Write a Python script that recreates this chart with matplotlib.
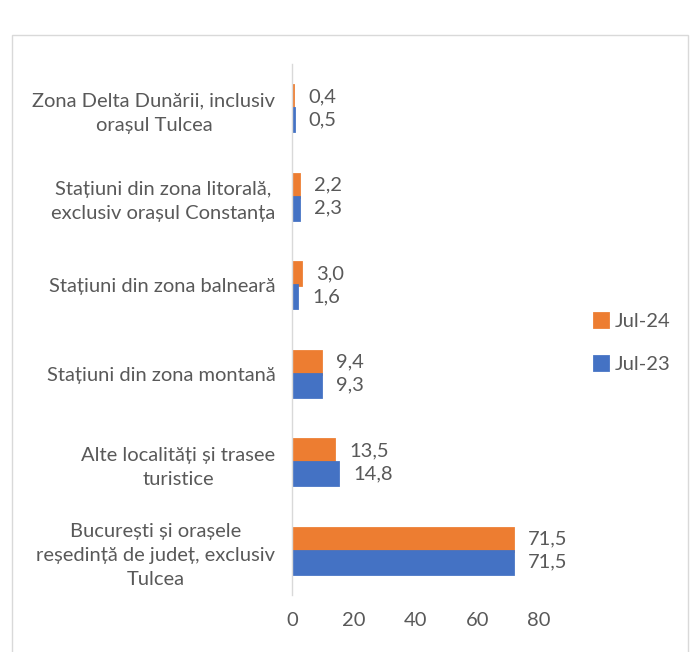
import numpy as np
import matplotlib.pyplot as plt
from matplotlib.patches import Rectangle

categories = [
    "Zona Delta Dunării, inclusiv\norașul Tulcea",
    "Stațiuni din zona litorală,\nexclusiv orașul Constanța",
    "Stațiuni din zona balneară",
    "Stațiuni din zona montană",
    "Alte localități și trasee\nturistice",
    "București și orașele\nreședință de județ, exclusiv\nTulcea",
]
jul23 = [0.5, 2.3, 1.6, 9.3, 14.8, 71.5]
jul24 = [0.4, 2.2, 3.0, 9.4, 13.5, 71.5]

blue = "#4472C4"
orange = "#ED7D31"
grey = "#595959"
fs = 14.5

plt.rcParams['font.family'] = ['Lato', 'DejaVu Sans']

fig = plt.figure(figsize=(6.92, 6.52), dpi=100)
# rama graficului
fig.patches.append(Rectangle((12 / 692, -0.05), 676 / 692, 1 - 35 / 652 + 0.05,
                             transform=fig.transFigure, fill=False,
                             edgecolor="#d9d9d9", linewidth=1))

ax = fig.add_axes([292 / 692, 1 - 595 / 652, (539 - 292) / 692, (595 - 64) / 652])

y = np.arange(len(categories))
h = 0.26
b24 = ax.barh(y - h / 2, jul24, height=h, color=orange, edgecolor=orange,
              linewidth=2, label="Jul-24")
b23 = ax.barh(y + h / 2, jul23, height=h, color=blue, edgecolor=blue,
              linewidth=2, label="Jul-23")

def fmt(v):
    return f"{v:.1f}".replace(".", ",")

for bars, vals in ((b24, jul24), (b23, jul23)):
    for bar, v in zip(bars, vals):
        ax.annotate(fmt(v), (bar.get_width(), bar.get_y() + bar.get_height() / 2),
                    xytext=(11, 0), textcoords="offset points",
                    ha="left", va="center", fontsize=fs, color=grey)

ax.set_ylim(len(categories) - 0.5, -0.5)
ax.set_xlim(0, 80)
ax.set_xticks([0, 20, 40, 60, 80])
ax.set_yticks(y)
ax.set_yticklabels(categories, multialignment="center", linespacing=1.5)
ax.tick_params(axis="y", length=0, pad=12, labelsize=fs, labelcolor=grey)
ax.tick_params(axis="x", length=0, pad=12, labelsize=fs, labelcolor=grey)

for s in ["top", "right", "bottom"]:
    ax.spines[s].set_visible(False)
ax.spines["left"].set_color("#d9d9d9")
ax.spines["left"].set_linewidth(1)

fig.legend(handles=[b24, b23], loc="center left",
           bbox_to_anchor=(576 / 692, 1 - 343 / 652), frameon=False,
           fontsize=fs, labelcolor=grey, handlelength=0.7, handleheight=0.7,
           handletextpad=0.3, labelspacing=1.3)

fig.savefig("out.png", dpi=100)
